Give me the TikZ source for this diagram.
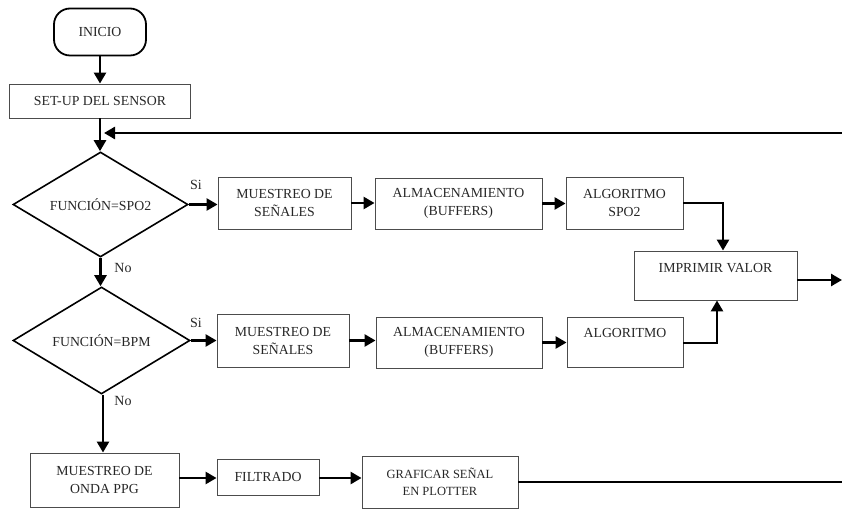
\documentclass[tikz,border=0pt]{standalone}
\usepackage{fontspec}
\setmainfont{Liberation Serif}
\usetikzlibrary{arrows.meta,shapes.geometric}
\begin{document}
\begin{tikzpicture}[x=1pt,y=-1pt,
  every node/.style={font=\rmfamily\fontsize{13.8}{18}\selectfont, text=black!85},
  box/.style={draw=black!70, line width=0.9pt, align=center, inner sep=0pt},
  dec/.style={diamond, draw=black, line width=1.6pt, inner sep=0pt},
  term/.style={draw=black, line width=1.8pt, rounded corners=16pt, inner sep=0pt},
  arr/.style={line width=2.6pt, -{Triangle[length=11pt,width=12pt]}},
  ln/.style={line width=2.6pt},
  lab/.style={font=\rmfamily\fontsize{14}{16}\selectfont}
]
\useasboundingbox (0,0) rectangle (842,510);

% nodes
\node[term, minimum width=92pt, minimum height=47pt] (inicio) at (100,32) {INICIO};
\node[box, minimum width=181pt, minimum height=34pt] (setup) at (100,101) {SET-UP DEL SENSOR};

\node[dec, minimum width=175pt, minimum height=105pt, label=center:{FUNCIÓN=SPO2}] (d1) at (100.5,204.5) {};
\node[box, minimum width=133pt, minimum height=52pt] (m1) at (284.5,203) {MUESTREO DE\\SEÑALES};
\node[box, minimum width=167pt, minimum height=51pt] (a1) at (458.5,203.5) {ALMACENAMIENTO\\(BUFFERS)};
\node[box, minimum width=117pt, minimum height=52pt] (g1) at (624.5,203) {ALGORITMO\\SPO2};

\node[box, minimum width=163pt, minimum height=49pt, label={[yshift=7pt]center:IMPRIMIR VALOR}] (imp) at (715.5,275.5) {};

\node[dec, minimum width=177pt, minimum height=107pt, label=center:{FUNCIÓN=BPM}] (d2) at (101.5,340.5) {};
\node[box, minimum width=132pt, minimum height=53pt] (m2) at (283,340.5) {MUESTREO DE\\SEÑALES};
\node[box, minimum width=166pt, minimum height=51pt] (a2) at (459,342.5) {ALMACENAMIENTO\\(BUFFERS)};
\node[box, minimum width=116pt, minimum height=50pt, label={[yshift=9pt]center:ALGORITMO}] (g2) at (625,342) {};

\node[box, minimum width=149pt, minimum height=54pt] (onda) at (104.5,480) {MUESTREO DE\\ONDA PPG};
\node[box, minimum width=102pt, minimum height=36pt] (filt) at (268,477) {FILTRADO};
\node[box, minimum width=156pt, minimum height=52pt, font=\rmfamily\fontsize{12.5}{17}\selectfont] (graf) at (440,482) {GRAFICAR SEÑAL\\EN PLOTTER};

% labels
\node[lab] (si1) at (196,185) {Si};
\node[lab] (no1) at (123,268) {No};
\node[lab] (si2) at (196,323) {Si};
\node[lab] (no2) at (123,401) {No};

% free ends
\coordinate (fbR) at (842,133);
\coordinate (fbL) at (104,133);
\coordinate (outR) at (842,280);
\coordinate (grR) at (842,482);

% connectors
\draw[arr] (inicio.south) -- (inicio.south |- setup.north);
\draw[arr] (setup.south) -- (setup.south |- d1.north);
\draw[arr] (fbR) -- (fbL);
\draw[arr] (d1.east) -- (d1.east -| m1.west);
\draw[arr] (m1.east) -- (m1.east -| a1.west);
\draw[arr] (a1.east) -- (a1.east -| g1.west);
\draw[arr] (g1.east) -| ([xshift=7.5pt]imp.north);
\draw[arr] ([yshift=-1pt]g2.east) -| ([xshift=1.5pt]imp.south);
\draw[arr] ([yshift=-4.5pt]imp.east) -- (outR);
\draw[arr] (d1.south) -- (d1.south |- d2.north);
\draw[arr] (d2.east) -- (d2.east -| m2.west);
\draw[arr] (m2.east) -- (m2.east -| a2.west);
\draw[arr] (a2.east) -- (a2.east -| g2.west);
\draw[arr] ([xshift=1.5pt]d2.south) -- ([xshift=1.5pt]d2.south |- onda.north);
\draw[arr] ([yshift=2pt]onda.east) -- ([yshift=2pt]onda.east -| filt.west);
\draw[arr] ([yshift=-1pt]filt.east) -- ([yshift=-1pt]filt.east -| graf.west);
\draw[ln] (graf.east) -- (grR);
\end{tikzpicture}
\end{document}
